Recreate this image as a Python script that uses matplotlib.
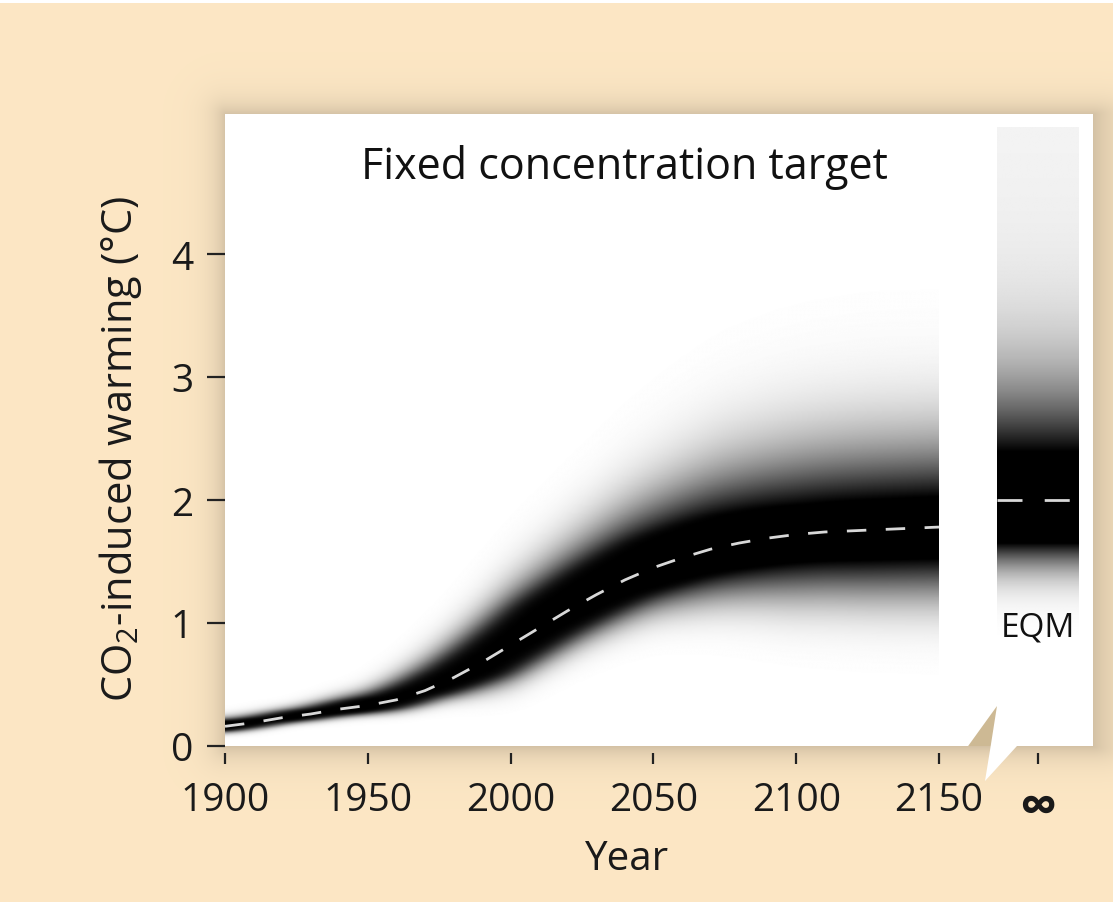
import numpy as np
import matplotlib
matplotlib.use("Agg")
import matplotlib.pyplot as plt
from matplotlib.patches import Polygon

plt.rcParams['font.family'] = ['Open Sans', 'DejaVu Sans']
plt.rcParams['mathtext.fontset'] = 'custom'
plt.rcParams['mathtext.rm'] = 'Open Sans'

# median warming
years = [1900, 1910, 1920, 1930, 1940, 1950, 1960, 1970, 1980, 1990, 2000, 2010, 2020,
         2030, 2040, 2050, 2060, 2070, 2080, 2090, 2100, 2110, 2120, 2130, 2140, 2150]
median = [0.16, 0.19, 0.23, 0.26, 0.30, 0.33, 0.375, 0.45, 0.555, 0.68, 0.82, 0.96, 1.10,
          1.23, 1.35, 1.45, 1.53, 1.60, 1.65, 1.69, 1.72, 1.74, 1.75, 1.76, 1.77, 1.78]

# shape of the shaded band: peak (saturation) and widths above / below the median
spread_years = [1900, 1925, 1950, 1975, 2000, 2025, 2050, 2075, 2100, 2125, 2150]
peak = [2.0, 2.0, 2.0, 2.2, 2.5, 2.0, 1.6, 1.4, 1.3, 1.3, 1.3]
width_up = [0.046, 0.05, 0.084, 0.185, 0.29, 0.37, 0.46, 0.54, 0.58, 0.60, 0.60]
width_dn = [0.047, 0.047, 0.063, 0.103, 0.22, 0.245, 0.29, 0.37, 0.45, 0.48, 0.50]

# equilibrium (EQM) column
eqm_median = 2.0
eqm_peak_up, eqm_peak_dn = 1.3, 1.9
eqm_width_up, eqm_width_dn = 0.775, 0.44
eqm_tail = 0.10

xticks = [1900, 1950, 2000, 2050, 2100, 2150]
yticks = [0, 1, 2, 3, 4]


def darkness(y, med, w_up, w_dn, pk_up, pk_dn, tail=0.0):
    x = y - med
    up = pk_up * np.exp(-(np.abs(x) / w_up) ** 1.5) + tail * np.exp(-np.abs(x) / 4.0)
    dn = pk_dn * np.exp(-(np.abs(x) / w_dn) ** 2)
    return np.clip(np.where(x >= 0, up, dn), 0, 1)


W, H = 1113, 903
fig = plt.figure(figsize=(W / 100, H / 100), dpi=100)

# beige background with soft shadow around the white panel
bg = fig.add_axes([0, 0, 1, 1], zorder=-10)
bg.axis('off')
yy, xx = np.mgrid[0:H, 0:W]
dx = np.maximum.reduce([225 - xx, np.zeros_like(xx), (xx - 1093) * 0.5])
dy = np.maximum.reduce([115 - yy, np.zeros_like(yy), yy - 747])
dist = np.hypot(dx, dy)
sh = np.exp(-dist / 14.0)
base = np.array([0.99, 0.905, 0.77])
img = base[None, None, :] * (1 - 0.16 * sh[..., None])
img[:4, :, :] = 1.0
bg.imshow(img, extent=[0, 1, 0, 1], aspect='auto')

x0, x1 = 1900, 1900 + 868 / 2.856
ymax = 632 / 123.0
ax = fig.add_axes([225 / W, 1 - 747 / H, 868 / W, 632 / H])
ax.set_facecolor('white')
ax.set_xlim(x0, x1)
ax.set_ylim(0, ymax)
for s in ax.spines.values():
    s.set_visible(False)

# transient distribution
gx = np.linspace(1900, 2150, 700)
gy = np.linspace(0, ymax, 700)
field = np.zeros((gy.size, gx.size))
med_i = np.interp(gx, years, median)
pk_i = np.interp(gx, spread_years, peak)
wu_i = np.interp(gx, spread_years, width_up)
wd_i = np.interp(gx, spread_years, width_dn)
for j in range(gx.size):
    field[:, j] = darkness(gy, med_i[j], wu_i[j], wd_i[j], pk_i[j], pk_i[j])

# soften along time so the band has no corners
k = np.exp(-0.5 * (np.arange(-40, 41) / 12.0) ** 2)
k /= k.sum()
padded = np.pad(field, ((0, 0), (40, 40)), mode='edge')
field = np.array([np.convolve(row, k, mode='valid') for row in padded])

ax.imshow(field, extent=[1900, 2150, 0, ymax], origin='lower', aspect='auto',
          cmap='gray_r', vmin=0, vmax=1, interpolation='bilinear')
ax.plot(years, median, color='#d8d8d8', lw=2, dashes=(7, 7))

# equilibrium column
eq_l, eq_r, eq_top = 2170.3, 2198.7, 5.03
ey = np.linspace(0, eq_top, 600)
ecol = darkness(ey, eqm_median, eqm_width_up, eqm_width_dn,
                eqm_peak_up, eqm_peak_dn, eqm_tail)
ax.imshow(np.tile(ecol[:, None], (1, 4)), extent=[eq_l, eq_r, 0, eq_top], origin='lower',
          aspect='auto', cmap='gray_r', vmin=0, vmax=1, interpolation='bilinear')
ax.plot([eq_l, eq_r], [eqm_median, eqm_median], color='#d8d8d8', lw=2, dashes=(9, 8))
ax.text((eq_l + eq_r) / 2 + 0.3, 0.97, 'EQM', ha='center', va='center', fontsize=24,
        color='#111111')

# torn gap between 2150 and infinity
ax.add_patch(Polygon([(2160.2, 0), (2170.3, 0.325), (2168.1, 0)], closed=True,
                     facecolor='#cdb994', edgecolor='none', zorder=5, clip_on=False))
ax.add_patch(Polygon([(2168.1, 0), (2166.1, -0.285), (2177.3, 0)], closed=True,
                     facecolor='white', edgecolor='none', zorder=5, clip_on=False))

ax.set_yticks(yticks)
ax.set_yticklabels([str(v) for v in yticks])
ax.tick_params(axis='y', direction='out', length=13, width=1.6, pad=10,
               labelsize=28, color='#222222', labelcolor='#1a1a1a')
ax.spines['bottom'].set_position(('outward', 5))
ax.set_xticks(xticks + [2184.7])
ax.set_xticklabels([str(v) for v in xticks] + ['∞'])
ax.tick_params(axis='x', direction='out', length=8, width=1.6, pad=12,
               labelsize=28, color='#222222', labelcolor='#1a1a1a')
ax.get_xticklabels()[-1].set_fontsize(38)
ax.get_xticklabels()[-1].set_fontweight('bold')

ax.text(2040, 4.71, 'Fixed concentration target', ha='center', va='center',
        fontsize=31, color='#111111')
fig.text(120 / W, 1 - 449 / H, 'CO$_2$-induced warming (°C)', rotation=90,
         ha='center', va='center', fontsize=30, color='#1a1a1a')
fig.text(627 / W, 1 - 860 / H, 'Year', ha='center', va='center', fontsize=29,
         color='#1a1a1a')

fig.savefig('out.png', dpi=100)
